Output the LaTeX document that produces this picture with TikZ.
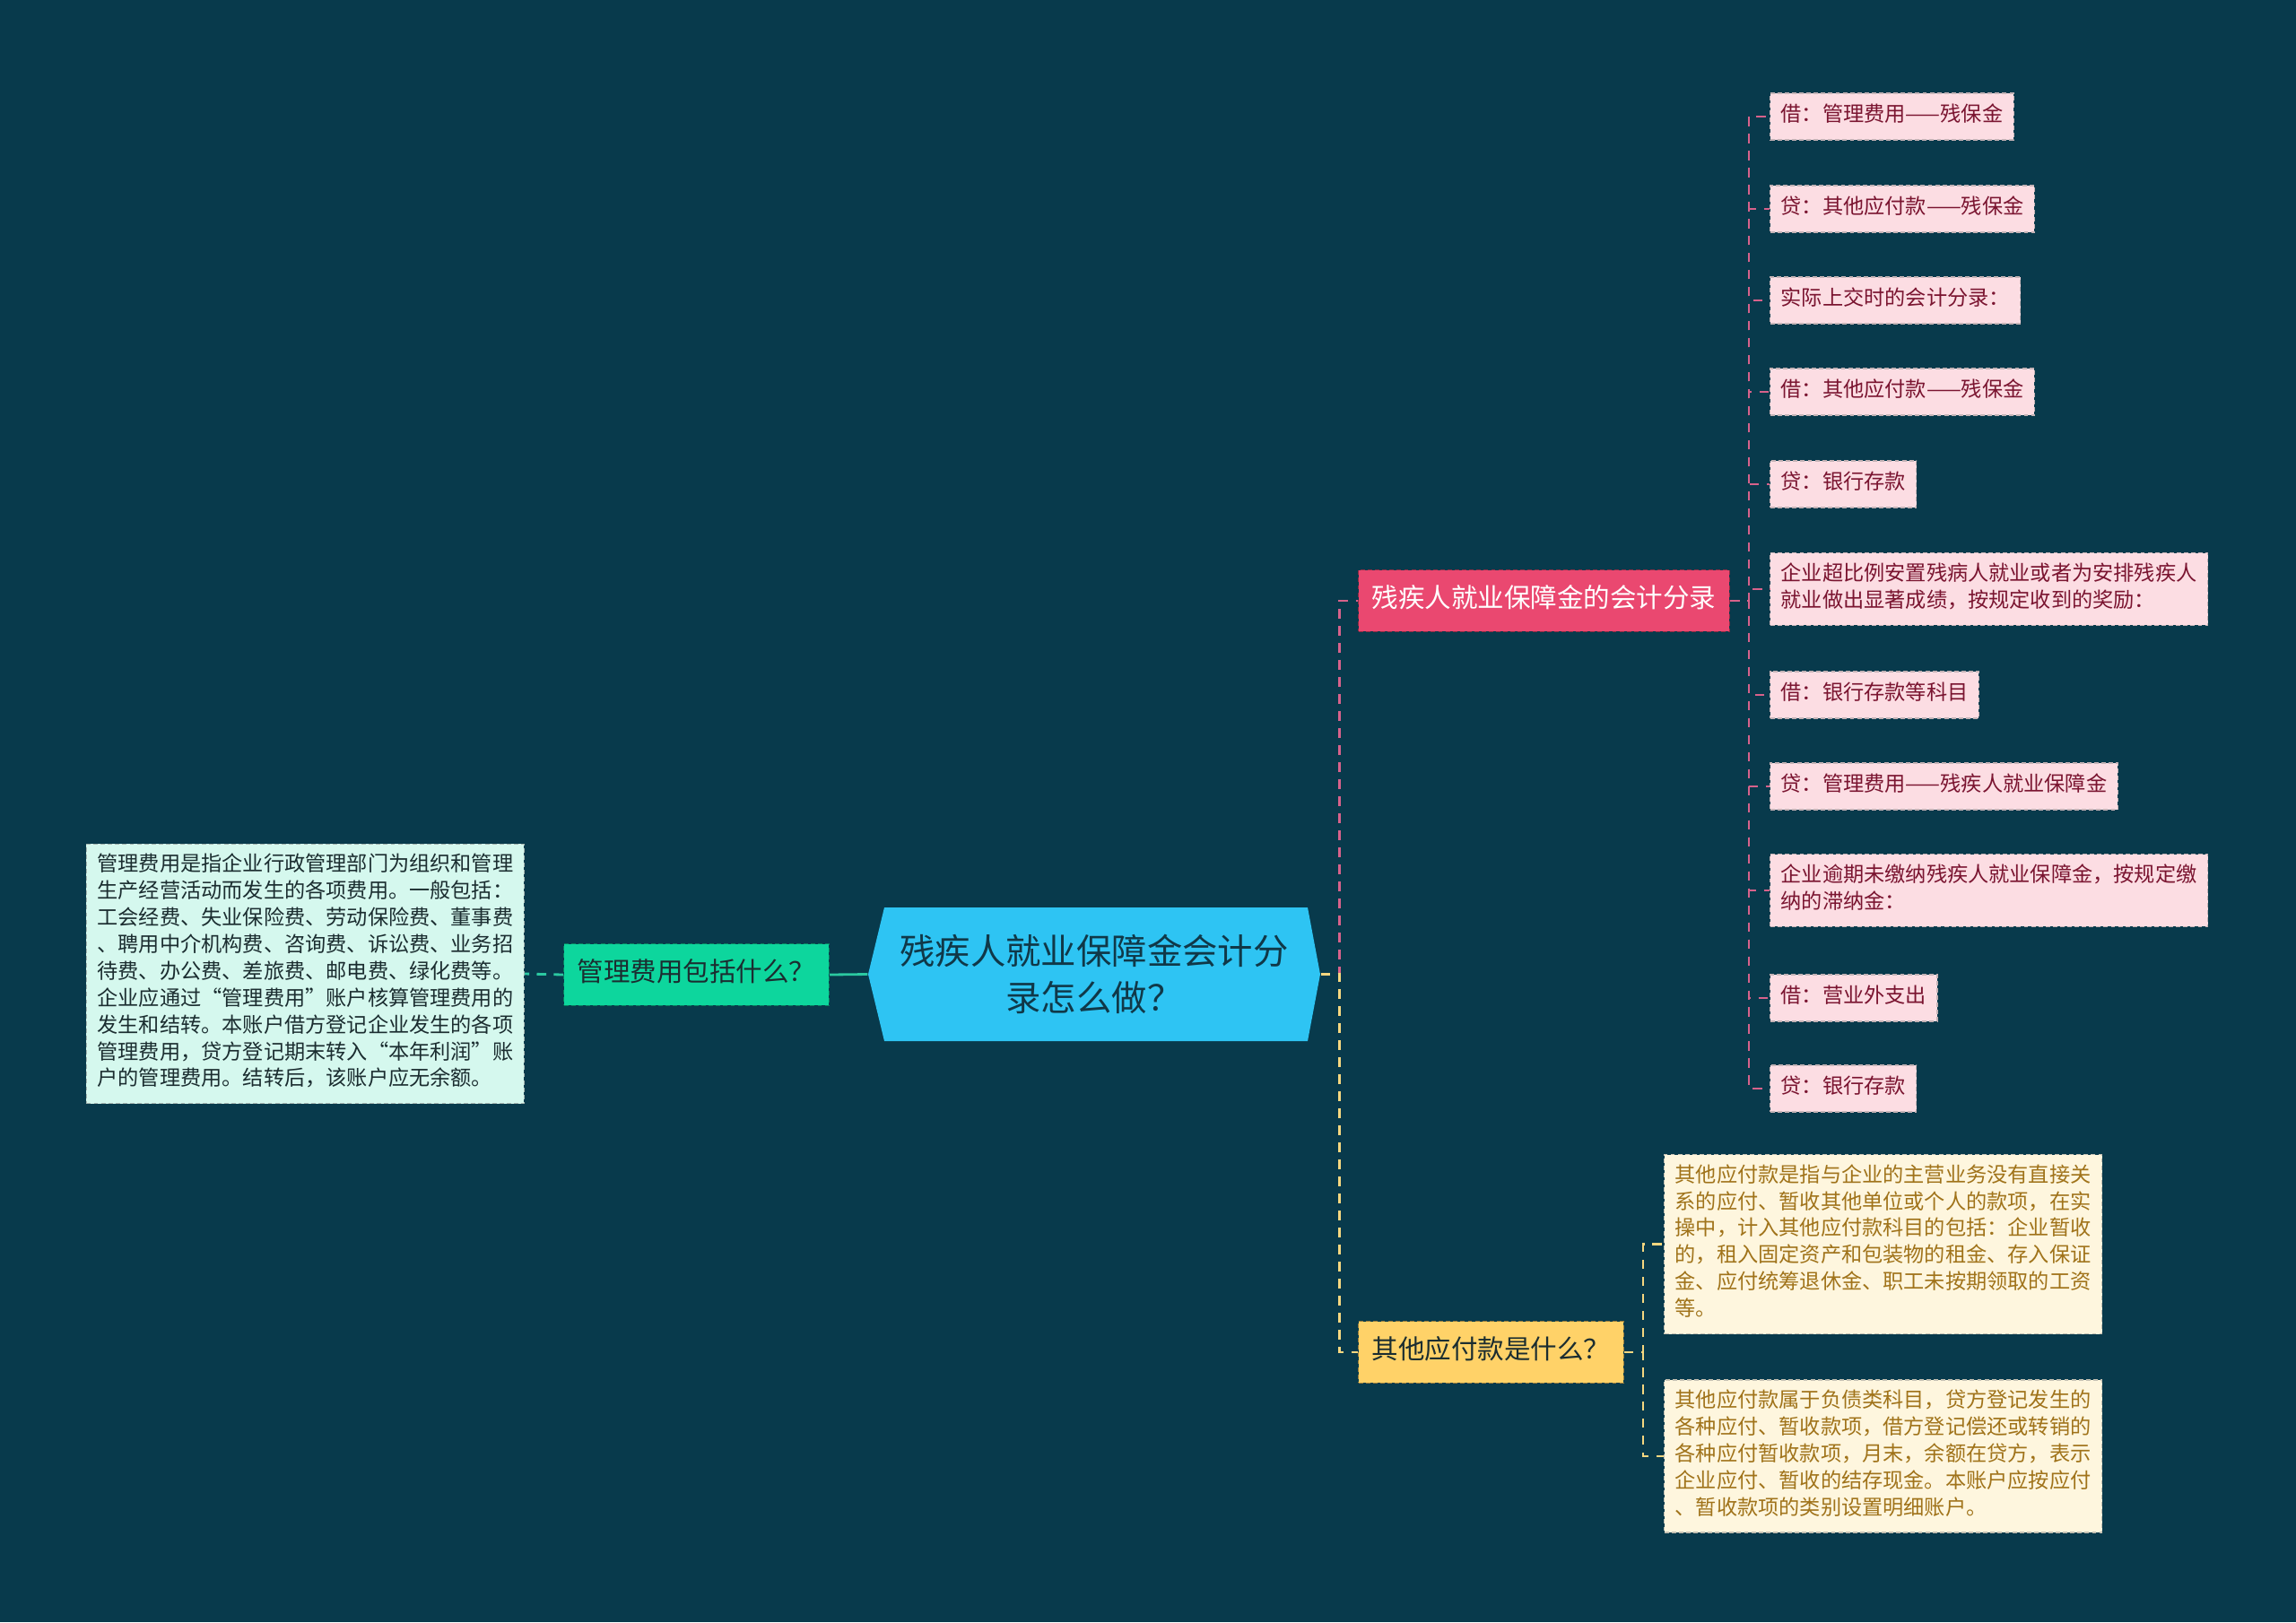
\documentclass[tikz,border=0pt]{standalone}
\usepackage{fontspec}
\setmainfont{Noto Sans CJK SC}
\usetikzlibrary{calc}
\definecolor{bgcol}{HTML}{083A4C}
\definecolor{hubcol}{HTML}{2EC4F3}
\definecolor{hubtext}{HTML}{103848}
\definecolor{mintcol}{HTML}{0DD69D}
\definecolor{mintleaf}{HTML}{D5F8EE}
\definecolor{mintline}{HTML}{2BC9A1}
\definecolor{rosecol}{HTML}{EA4870}
\definecolor{roseleaf}{HTML}{FCDDE3}
\definecolor{rosetext}{HTML}{7A1430}
\definecolor{roseline}{HTML}{D7628B}
\definecolor{goldcol}{HTML}{FFD268}
\definecolor{goldleaf}{HTML}{FEF6DE}
\definecolor{goldtext}{HTML}{A0731A}
\definecolor{goldline}{HTML}{F6D780}
\definecolor{darktext}{HTML}{1B2D30}

\tikzset{
  box/.style={align=left, inner xsep=0.12cm, inner ysep=0.11cm,
    dash pattern=on 1.4pt off 0.9pt, line width=0.35pt,
    execute at begin node=\strut, execute at end node=\strut},
  leaffont/.style={font=\fontsize{6.6}{8.5}\selectfont},
  roseleafbox/.style={box, leaffont, anchor=west, fill=roseleaf, draw=roseleaf!55!gray, text=rosetext},
  goldleafbox/.style={box, leaffont, anchor=west, fill=goldleaf, draw=goldleaf!55!gray, text=goldtext},
  mintleafbox/.style={box, leaffont, anchor=east, fill=mintleaf, draw=mintleaf!45!gray, text=darktext},
  branch/.style={box, anchor=west, inner xsep=0.15cm, inner ysep=0.16cm,
    font=\fontsize{8.4}{10.5}\selectfont},
  link/.style={line width=0.8pt, dash pattern=on 3pt off 2.4pt}
}

\begin{document}
\begin{tikzpicture}
\fill[bgcol] (0,0) rectangle (25.6,-18.09);

\fill[hubcol] (9.68,-10.865) -- (9.86,-10.12) -- (14.58,-10.12) -- (14.72,-10.865)
  -- (14.58,-11.61) -- (9.86,-11.61) -- cycle;
\node[minimum width=5.04cm, minimum height=1.49cm, align=center, text=hubtext,
  font=\fontsize{11.2}{14.8}\selectfont] (hub) at (12.20,-10.865) {残疾人就业保障金会计分\\录怎么做？};

\node[branch, fill=mintcol, draw=mintcol!60!black, text=darktext] (mgmt) at (6.28,-10.87) {管理费用包括什么？};
\node[mintleafbox] (mgmtnote) at (5.85,-10.86) {管理费用是指企业行政管理部门为组织和管理\\生产经营活动而发生的各项费用。一般包括：\\工会经费、失业保险费、劳动保险费、董事费\\、聘用中介机构费、咨询费、诉讼费、业务招\\待费、办公费、差旅费、邮电费、绿化费等。\\企业应通过“管理费用”账户核算管理费用的\\发生和结转。本账户借方登记企业发生的各项\\管理费用，贷方登记期末转入“本年利润”账\\户的管理费用。结转后，该账户应无余额。};

\node[branch, fill=rosecol, draw=rosecol!60!black, text=white] (fund) at (15.14,-6.70) {残疾人就业保障金的会计分录};
\node[branch, fill=goldcol, draw=goldcol!60!black, text=darktext] (other) at (15.14,-15.08) {其他应付款是什么？};

\node[roseleafbox] (r1) at (19.73,-1.30) {借：管理费用——残保金};
\node[roseleafbox] (r2) at (19.73,-2.33) {贷：其他应付款——残保金};
\node[roseleafbox] (r3) at (19.73,-3.35) {实际上交时的会计分录：};
\node[roseleafbox] (r4) at (19.73,-4.37) {借：其他应付款——残保金};
\node[roseleafbox] (r5) at (19.73,-5.40) {贷：银行存款};
\node[roseleafbox] (r6) at (19.73,-6.57) {企业超比例安置残病人就业或者为安排残疾人\\就业做出显著成绩，按规定收到的奖励：};
\node[roseleafbox] (r7) at (19.73,-7.75) {借：银行存款等科目};
\node[roseleafbox] (r8) at (19.73,-8.77) {贷：管理费用——残疾人就业保障金};
\node[roseleafbox] (r9) at (19.73,-9.93) {企业逾期未缴纳残疾人就业保障金，按规定缴\\纳的滞纳金：};
\node[roseleafbox] (r10) at (19.73,-11.13) {借：营业外支出};
\node[roseleafbox] (r11) at (19.73,-12.14) {贷：银行存款};

\node[goldleafbox] (g1) at (18.55,-13.875) {其他应付款是指与企业的主营业务没有直接关\\系的应付、暂收其他单位或个人的款项，在实\\操中，计入其他应付款科目的包括：企业暂收\\的，租入固定资产和包装物的租金、存入保证\\金、应付统筹退休金、职工未按期领取的工资\\等。};
\node[goldleafbox] (g2) at (18.55,-16.24) {其他应付款属于负债类科目，贷方登记发生的\\各种应付、暂收款项，借方登记偿还或转销的\\各种应付暂收款项，月末，余额在贷方，表示\\企业应付、暂收的结存现金。本账户应按应付\\、暂收款项的类别设置明细账户。};

\draw[link, mintline] (mgmt.west) -- (mgmtnote.east);
\draw[line width=0.8pt, mintline] (hub.west) -- (mgmt.east);
\draw[link, roseline] (hub.east) -- ++(0.21,0) |- (fund.west);
\draw[link, goldline] (hub.east) -- ++(0.21,0) |- (other.west);
\foreach \n in {r1,r2,r3,r4,r5,r6,r7,r8,r9,r10,r11}
  \draw[link, roseline] (fund.east) -- ++(0.21,0) |- (\n.west);
\foreach \n in {g1,g2}
  \draw[link, goldline] (other.east) -- ++(0.21,0) |- (\n.west);
\end{tikzpicture}
\end{document}
